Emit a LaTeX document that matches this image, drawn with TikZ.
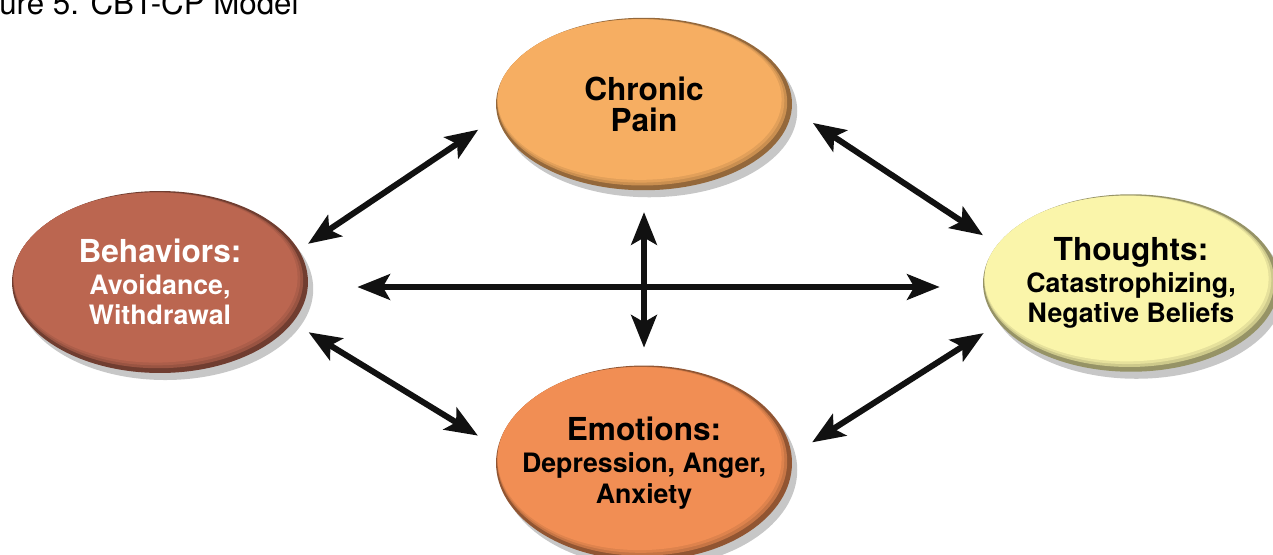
\documentclass[tikz,border=0pt]{standalone}
\usepackage{fontspec}
\setmainfont{TeX Gyre Heros}
\usetikzlibrary{arrows.meta, shadows, shapes.geometric}
\definecolor{painfill}{RGB}{246, 174, 98}
\definecolor{behfill}{RGB}{187, 102, 80}
\definecolor{thoughtfill}{RGB}{250, 245, 170}
\definecolor{emofill}{RGB}{241, 142, 84}
\definecolor{arrowink}{RGB}{17, 17, 17}
\newcommand{\ovalhead}{\fontsize{18pt}{17.8pt}\selectfont\bfseries}
\newcommand{\ovalsub}{\fontsize{15.2pt}{17.4pt}\selectfont\bfseries}

\begin{document}
\begin{tikzpicture}[
    x=0.02cm, y=-0.02cm,
    oval/.style 2 args={ellipse, minimum width=5.92cm, minimum height=#2,
      inner xsep=-1.2cm, inner ysep=-0.6cm, align=center,
      fill=#1!60!black,
      drop shadow={shadow xshift=3pt, shadow yshift=-4pt, opacity=0.22, fill=black},
      path picture={
        \fill[#1!82!black] ([shift={(-1pt,1pt)}]path picture bounding box.center)
          ellipse [x radius=2.90cm, y radius={#2/2-0.06cm}];
        \fill[#1!92!black] ([shift={(-1.8pt,1.8pt)}]path picture bounding box.center)
          ellipse [x radius=2.87cm, y radius={#2/2-0.09cm}];
        \fill[#1] ([shift={(-2.5pt,2.5pt)}]path picture bounding box.center)
          ellipse [x radius=2.84cm, y radius={#2/2-0.12cm}];}},
    link/.style={{Stealth[length=18.5pt, width=14.5pt, inset=4pt]}-{Stealth[length=18.5pt, width=14.5pt, inset=4pt]},
      line width=3.4pt, draw=arrowink}
  ]
  \useasboundingbox (0,0) rectangle (1273,554);

  % Title (cut at the left edge)
  \node[font=\fontsize{17.8pt}{20pt}\selectfont, anchor=base west, inner sep=0pt] (title) at (-1,15) {ure 5. CBT-CP Model};

  % The four ovals
  \node[oval={painfill}{3.45cm}, font=\ovalhead] (pain) at (644,104) {Chronic\\Pain};
  \node[oval={behfill}{3.64cm}, font=\ovalsub, text=white] (beh) at (160,282) {{\ovalhead Behaviors:}\\[0.8pt]Avoidance,\\Withdrawal};
  \node[oval={thoughtfill}{3.55cm}, font=\ovalsub] (thoughts) at (1131,283) {{\ovalhead Thoughts:}\\[0.8pt]Catastrophizing,\\Negative Beliefs};
  \node[oval={emofill}{3.9cm}, font=\ovalsub] (emo) at (644,463) {{\ovalhead Emotions:}\\[0.8pt]Depression, Anger,\\Anxiety};

  % Crossing arrows
  \coordinate (hub) at (644,287);
  \draw[link, shorten <=0.43cm, shorten >=0.35cm] (pain.south) -- (emo.north);
  \draw[link, shorten <=0.98cm, shorten >=0.86cm] (beh.east |- hub) -- (thoughts.west |- hub);

  % Arrows round the ring
  \draw[link, shorten <=0.22cm, shorten >=0.46cm] (beh.13) -- (pain.185);
  \draw[link, shorten <=0.5cm, shorten >=0.34cm] (pain.358) -- (thoughts.164);
  \draw[link, shorten <=0.37cm, shorten >=0.46cm] (beh.343) -- (emo.174);
  \draw[link, shorten <=0.48cm, shorten >=0.36cm] (emo.3) -- (thoughts.197);
\end{tikzpicture}
\end{document}
